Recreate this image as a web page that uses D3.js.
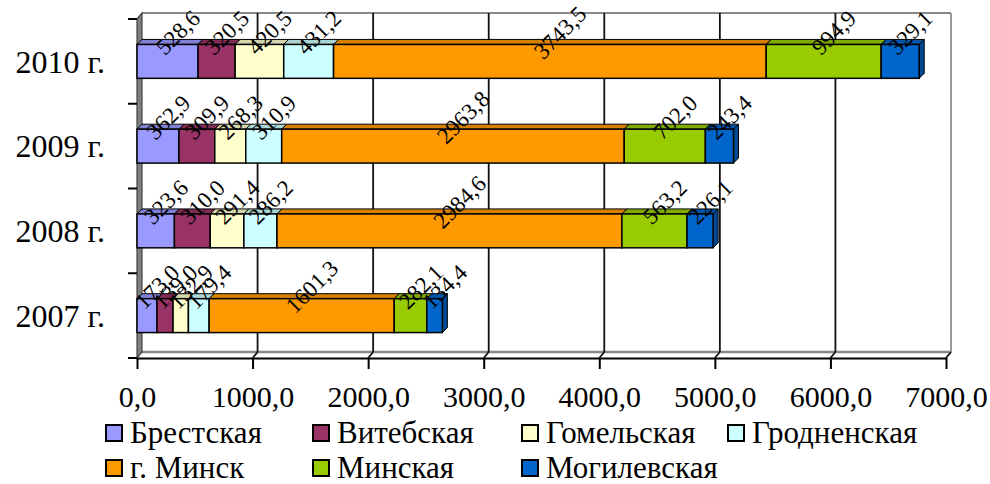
<!DOCTYPE html>
<html>
<head>
<meta charset="utf-8">
<script src="https://cdn.jsdelivr.net/npm/d3@7"></script>
<style>
  body { margin: 0; background: #fff; }
  text { font-family: 'Liberation Serif', 'Times New Roman', serif; }
</style>
</head>
<body>
<div id="chart"></div>
<script>
const years = ['2010 г.', '2009 г.', '2008 г.', '2007 г.']
const regions = ['Брестская', 'Витебская', 'Гомельская', 'Гродненская', 'г. Минск', 'Минская', 'Могилевская']
const colors = ['#9999FF', '#993366', '#FFFFCC', '#CCFFFF', '#FF9900', '#99CC00', '#0066CC']

// values per year, in region order
const v2010 = [528.6, 320.5, 420.5, 431.2, 3743.5, 994.9, 329.1]
const v2009 = [362.9, 309.9, 268.3, 310.9, 2963.8, 702.0, 243.4]
const v2008 = [323.6, 310.0, 291.4, 286.2, 2984.6, 563.2, 226.1]
const v2007 = [173.0, 139.0, 132.9, 179.4, 1601.3, 282.1, 134.4]
const xTicks = [0, 1000, 2000, 3000, 4000, 5000, 6000, 7000]

const valuesByYear = [v2010, v2009, v2008, v2007]

const width = 990, height = 484
const plot = {left: 137, right: 946, top: 19, bottom: 358}
const depth = {dx: 5, dy: 6}     // 3D offset of walls
const barDepth = {dx: 5, dy: 5}  // 3D offset of bars

const svg = d3.select('#chart').append('svg')
  .attr('width', width)
  .attr('height', height)

const x = d3.scaleLinear().domain([0, 7000]).range([plot.left, plot.right])
const y = d3.scaleBand().domain(years).range([plot.top, plot.bottom])
  .paddingInner(0.6).paddingOuter(0.3)

const fmt = v => d3.format('.1f')(v).replace('.', ',')

// walls and floor
const wall = svg.append('g')
wall.append('line')
  .attr('x1', plot.left + depth.dx).attr('x2', plot.right + depth.dx)
  .attr('y1', plot.top - depth.dy).attr('y2', plot.top - depth.dy)
  .attr('stroke', '#888').attr('stroke-width', 2)
wall.append('line')
  .attr('x1', plot.right + depth.dx).attr('x2', plot.right + depth.dx)
  .attr('y1', plot.top - depth.dy).attr('y2', plot.bottom - depth.dy)
  .attr('stroke', '#999').attr('stroke-width', 2)
wall.append('line')
  .attr('x1', plot.left + depth.dx).attr('x2', plot.right + depth.dx)
  .attr('y1', plot.bottom - depth.dy).attr('y2', plot.bottom - depth.dy)
  .attr('stroke', '#888').attr('stroke-width', 2.5)

// gridlines on back wall and floor
xTicks.slice(1, -1).forEach(t => {
  wall.append('line')
    .attr('x1', x(t) + depth.dx).attr('x2', x(t) + depth.dx)
    .attr('y1', plot.top - depth.dy).attr('y2', plot.bottom - depth.dy)
    .attr('stroke', '#111').attr('stroke-width', 1.8)
})
xTicks.slice(1).forEach(t => {
  wall.append('line')
    .attr('x1', x(t) + depth.dx).attr('x2', x(t))
    .attr('y1', plot.bottom - depth.dy).attr('y2', plot.bottom)
    .attr('stroke', '#111').attr('stroke-width', 1.8)
})

// left wall
wall.append('path')
  .attr('d', `M${plot.left},${plot.top}L${plot.left + depth.dx},${plot.top - depth.dy}L${plot.left + depth.dx},${plot.bottom - depth.dy}L${plot.left},${plot.bottom}Z`)
  .attr('fill', '#808080').attr('stroke', '#444').attr('stroke-width', 1.2)

// x axis
const xAxis = svg.append('g')
  .attr('transform', `translate(0,${plot.bottom})`)
  .call(d3.axisBottom(x).tickValues(xTicks).tickFormat(fmt).tickSize(11).tickSizeOuter(0))
xAxis.select('.domain').attr('stroke', '#000').attr('stroke-width', 2)
xAxis.selectAll('.tick line').attr('stroke', '#000').attr('stroke-width', 2)
xAxis.selectAll('.tick text')
  .attr('y', 49).attr('dy', 0)
  .attr('font-size', 30)
  .attr('font-family', 'Liberation Serif')
  .attr('fill', '#000')

// y axis ticks at category boundaries
const step = y.step()
const bounds = years.map(d => y(d) + y.bandwidth() / 2 - step / 2)
bounds.push(y(years[years.length - 1]) + y.bandwidth() / 2 + step / 2)
svg.append('g').selectAll('line')
  .data(bounds)
  .enter().append('line')
  .attr('x1', plot.left - 9).attr('x2', plot.left)
  .attr('y1', d => d).attr('y2', d => d)
  .attr('stroke', '#000').attr('stroke-width', 2)

svg.append('g').selectAll('text')
  .data(years)
  .enter().append('text')
  .attr('x', 105)
  .attr('y', d => y(d) + y.bandwidth() / 2)
  .attr('dy', '0.35em')
  .attr('text-anchor', 'end')
  .attr('font-size', 32)
  .attr('fill', '#000')
  .text(d => d)

// bars
const shade = (c, k) => d3.rgb(c).darker(k).formatHex()
const bars = svg.append('g')
const labels = svg.append('g')

years.forEach((yr, yi) => {
  const vals = valuesByYear[yi]
  const y0 = y(yr)
  const h = y.bandwidth()
  let acc = 0
  vals.forEach((v, i) => {
    const x0 = x(acc), x1 = x(acc + v)
    acc += v
    const c = colors[i]
    const g = bars.append('g')
    g.append('path')
      .attr('d', `M${x1},${y0}L${x1 + barDepth.dx},${y0 - barDepth.dy}L${x1 + barDepth.dx},${y0 + h - barDepth.dy}L${x1},${y0 + h}Z`)
      .attr('fill', shade(c, 0.9)).attr('stroke', '#000').attr('stroke-width', 1)
    g.append('path')
      .attr('d', `M${x0},${y0}L${x0 + barDepth.dx},${y0 - barDepth.dy}L${x1 + barDepth.dx},${y0 - barDepth.dy}L${x1},${y0}Z`)
      .attr('fill', shade(c, 0.5)).attr('stroke', '#000').attr('stroke-width', 1)
    g.append('rect')
      .attr('x', x0).attr('y', y0)
      .attr('width', x1 - x0).attr('height', h)
      .attr('fill', c).attr('stroke', '#000').attr('stroke-width', 1.5)

    const cx = (x0 + x1) / 2 + 10
    const cy = y0 + h / 2 - 29
    labels.append('text')
      .attr('transform', `translate(${cx},${cy}) rotate(-45)`)
      .attr('text-anchor', 'middle')
      .attr('dy', '0.35em')
      .attr('font-size', 23)
      .attr('fill', '#000')
      .text(fmt(v))
  })
})

// legend
const legendRows = [[0, 1, 2, 3], [4, 5, 6]]
const colX = [106, 313, 522, 728]
const rowY = [443, 478]
const legend = svg.append('g')
legendRows.forEach((row, ri) => {
  row.forEach((idx, ci) => {
    legend.append('rect')
      .attr('x', colX[ci]).attr('y', rowY[ri] - 18)
      .attr('width', 16).attr('height', 16)
      .attr('fill', colors[idx]).attr('stroke', '#000').attr('stroke-width', 2)
    legend.append('text')
      .attr('x', colX[ci] + 24).attr('y', rowY[ri])
      .attr('font-size', 31)
      .attr('fill', '#000')
      .text(regions[idx])
  })
})
</script>
</body>
</html>
